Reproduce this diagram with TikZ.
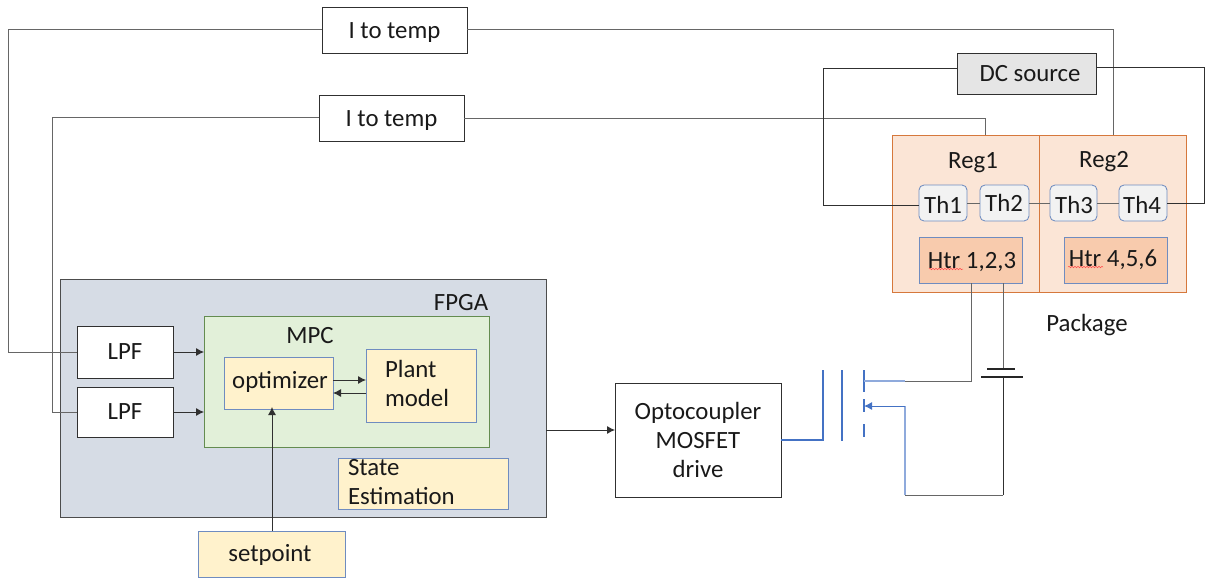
\documentclass[tikz,border=0pt]{standalone}
\usepackage{fontspec}
\setmainfont{Carlito}
\usetikzlibrary{arrows.meta,decorations.pathmorphing}
\definecolor{ln}{HTML}{303030}
\definecolor{bluebd}{HTML}{4472C4}
\definecolor{softblue}{HTML}{8FAADC}
\definecolor{softbd}{HTML}{6F8CC0}
\definecolor{cyel}{HTML}{FFF2CC}
\definecolor{corg}{HTML}{F8CBAD}
\tikzset{
  x=1pt,y=-1pt,
  every node/.style={font=\fontsize{24.8}{29}\selectfont,text=black!90,inner sep=0pt,outer sep=0pt},
  whitebox/.style={draw=ln,line width=0.85pt,fill=white},
  yellowbox/.style={draw=softbd,line width=0.85pt,fill=cyel},
  thbox/.style={draw=softbd,line width=0.85pt,fill=black!5,rounded corners=5pt},
  htrbox/.style={draw=softbd,line width=0.85pt,fill=corg},
  wire/.style={draw=ln,line width=0.9pt},
  softwire/.style={draw=black!60,line width=1pt},
  bluewire/.style={draw=bluebd,line width=1.4pt},
  lightwire/.style={draw=softblue,line width=1.2pt},
  arrowwire/.style={wire,-{Latex[length=8pt,width=8pt]}},
  squiggle/.style={draw=red!70,line width=0.5pt,decorate,decoration={snake,amplitude=0.7pt,segment length=3pt}},
}
\begin{document}
\begin{tikzpicture}
\useasboundingbox (0,0) rectangle (1206,578);
% FPGA
\node[draw=black!70,line width=0.9pt,fill={rgb,255:red,214;green,220;blue,229},minimum width=486,minimum height=238] (fpga) at (303,398) {};
\node (fpgalab) at (461,303) {FPGA};
\node[draw={rgb,255:red,100;green,140;blue,80},line width=0.85pt,fill={rgb,255:red,226;green,240;blue,217},minimum width=285,minimum height=131] (mpc) at (346.5,381.5) {};
\node (mpclab) at (310,336) {MPC};
\node[whitebox,minimum width=96,minimum height=52] (lpfa) at (125,352) {LPF};
\node[whitebox,minimum width=96,minimum height=50] (lpfb) at (125,412) {LPF};
\node[yellowbox,minimum width=109,minimum height=52] (opt) at (278.5,383) {};
\node (optlab) at (280,382) {optimizer};
\node[yellowbox,minimum width=110,minimum height=73] (plant) at (421,385.5) {};
\node[anchor=west,align=left] (plantlab) at (385,383) {Plant\\model};
\node[yellowbox,minimum width=170,minimum height=51] (state) at (423,483.5) {};
\node[anchor=west,align=left] (statelab) at (348,482) {State\\Estimation};
\node[yellowbox,minimum width=147,minimum height=46] (setp) at (271.5,554) {};
\node (setplab) at (270,555) {setpoint};
% Temperature converters and source
\node[whitebox,minimum width=145,minimum height=46] (tempa) at (394.5,30) {};
\node (tempalab) at (394.5,33) {I to temp};
\node[whitebox,minimum width=145,minimum height=46] (tempb) at (391.5,118) {};
\node (tempblab) at (391.5,121) {I to temp};
\node[draw=ln,line width=0.85pt,fill=black!10,minimum width=139,minimum height=41] (dc) at (1026.5,73.5) {};
\node (dclab) at (1030,74) {DC source};
% Package
\node[draw={rgb,255:red,214;green,120;blue,60},line width=0.9pt,fill={rgb,255:red,251;green,229;blue,214},minimum width=294,minimum height=157] (pkg) at (1039,213.5) {};
\coordinate (divtop) at (1039,135);
\coordinate (divbot) at (1039,292);
\draw[draw={rgb,255:red,214;green,120;blue,60},line width=0.8pt] (divtop) -- (divbot);
\node (rega) at (973,163) {Reg1};
\node (regb) at (1104,162) {Reg2};
\node[thbox,minimum width=48,minimum height=36] (tha) at (943,203) {};
\node (thalab) at (943,205) {Th1};
\node[thbox,minimum width=49,minimum height=36] (thb) at (1004.5,203) {};
\node (thblab) at (1004,203) {Th2};
\node[thbox,minimum width=47,minimum height=36] (thc) at (1073.5,203) {};
\node (thclab) at (1074,205) {Th3};
\node[thbox,minimum width=48,minimum height=36] (thd) at (1143,203) {};
\node (thdlab) at (1142,205) {Th4};
\node[htrbox,minimum width=103,minimum height=46] (htra) at (970.5,260) {};
\node (htralab) at (972,262) {Htr 1,2,3};
\node[htrbox,minimum width=103,minimum height=46] (htrb) at (1115.5,260) {};
\node (htrblab) at (1113,260) {Htr 4,5,6};
\coordinate (sqa0) at (929,269); \coordinate (sqa1) at (963,269);
\coordinate (sqb0) at (1068,267); \coordinate (sqb1) at (1103,267);
\draw[squiggle] (sqa0) -- (sqa1);
\draw[squiggle] (sqb0) -- (sqb1);
\node (pkglab) at (1087,325) {Package};
\node[whitebox,minimum width=166,minimum height=114,align=center] (opto) at (698,440) {Optocoupler\\MOSFET\\drive};
% Routing
\coordinate (pa) at (1113,135);
\coordinate (pb) at (985,135);
\draw[softwire] (tempa.east) -| (pa);
\draw[softwire] (tempb.east) -| (pb);
\coordinate (la) at (8,30);
\coordinate (lb) at (52,117);
\draw[softwire] (tempa.west) -- (la) |- (lpfa.west);
\draw[softwire] (tempb.west |- lb) -- (lb) |- (lpfb.west);
\coordinate (dl) at (823,68);
\coordinate (dr) at (1204,67);
\coordinate (thl) at (919,205);
\draw[wire] (dc.west |- dl) -- (dl) |- (thl);
\draw[wire] (dc.east |- dr) -- (dr) |- (thd.east);
\draw[softwire] (tha.east) -- (thb.west);
\draw[softwire] (thb.east) -- (thc.west);
\draw[softwire] (thc.east) -- (thd.west);
% FPGA arrows
\coordinate (ma) at (204,352);
\coordinate (mb) at (204,412);
\draw[arrowwire] (lpfa.east) -- (ma);
\draw[arrowwire] (lpfb.east) -- (mb);
\coordinate (oa) at (333,380); \coordinate (pla) at (366,380);
\coordinate (ob) at (333,393); \coordinate (plb) at (366,393);
\draw[arrowwire] (oa) -- (pla);
\draw[arrowwire] (plb) -- (ob);
\coordinate (st) at (272,531); \coordinate (oc) at (272,407);
\draw[arrowwire] (st) -- (oc);
\coordinate (fo) at (546,430); \coordinate (oo) at (615,430);
\draw[arrowwire] (fo) -- (oo);
% MOSFET
\coordinate (gs) at (781,440);
\coordinate (gb) at (823,440);
\coordinate (gt) at (823,370);
\draw[bluewire] (gs) -- (gb) -- (gt);
\coordinate (cht) at (842,370); \coordinate (chb) at (842,441);
\draw[bluewire] (cht) -- (chb);
\coordinate (s1t) at (864,370); \coordinate (s1b) at (864,392);
\coordinate (s2t) at (864,399); \coordinate (s2b) at (864,412);
\coordinate (s3t) at (864,424); \coordinate (s3b) at (864,437);
\draw[bluewire] (s1t) -- (s1b);
\draw[bluewire] (s2t) -- (s2b);
\draw[bluewire] (s3t) -- (s3b);
\coordinate (dm) at (905,381);
\coordinate (dh) at (971,381);
\coordinate (ht1) at (971,283);
\coordinate (ht2) at (1003,283);
\draw[lightwire] (s1t |- dm) -- (dm);
\draw[softwire] (dm) -- (dh) -- (ht1);
\coordinate (sm) at (905,406);
\coordinate (sb) at (905,495);
\coordinate (bb) at (1003,495);
\coordinate (bp) at (1003,377);
\coordinate (bq) at (1003,369);
\draw[lightwire] (sb) -- (sm);
\draw[draw=bluebd,line width=1pt,-{Latex[length=8pt,width=8pt]}] (sm) -- (s2b |- sm);
\draw[softwire] (sb) -- (bb);
\draw[wire] (bb) -- (bp);
\draw[softwire] (ht2) -- (bq);
\coordinate (pl0) at (981,377); \coordinate (pl1) at (1023,377);
\coordinate (ps0) at (987,369); \coordinate (ps1) at (1015,369);
\draw[draw=black!85,line width=1.5pt] (pl0) -- (pl1);
\draw[draw=black!85,line width=1.5pt] (ps0) -- (ps1);
\end{tikzpicture}
\end{document}
